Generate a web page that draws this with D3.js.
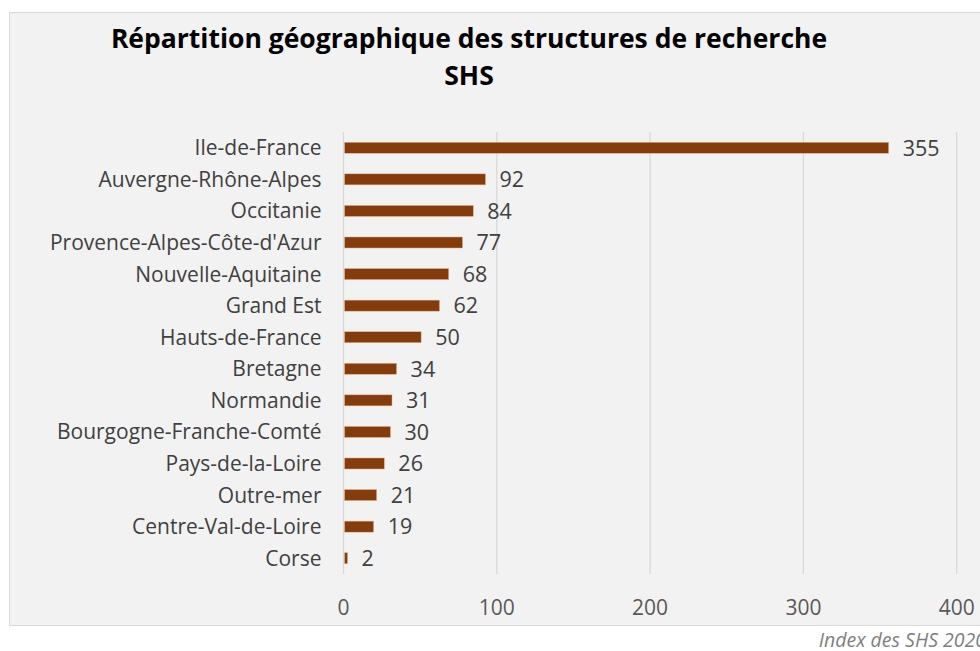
<!DOCTYPE html>
<html>
<head>
<meta charset="utf-8">
<script src="https://cdn.jsdelivr.net/npm/d3@7"></script>
<style>
  body { margin: 0; background: #fff; }
  text { font-family: "Open Sans", sans-serif; }
</style>
</head>
<body>
<div id="chart"></div>
<script>
const regions = ["Ile-de-France", "Auvergne-Rhône-Alpes", "Occitanie", "Provence-Alpes-Côte-d'Azur",
  "Nouvelle-Aquitaine", "Grand Est", "Hauts-de-France", "Bretagne", "Normandie",
  "Bourgogne-Franche-Comté", "Pays-de-la-Loire", "Outre-mer", "Centre-Val-de-Loire", "Corse"];
const counts = [355, 92, 84, 77, 68, 62, 50, 34, 31, 30, 26, 21, 19, 2];
const xTicks = [0, 100, 200, 300, 400];

const W = 980, H = 651;
const plot = { left: 343.5, right: 956.7, top: 132, bottom: 574 };

const svg = d3.select("#chart").append("svg")
  .attr("width", W)
  .attr("height", H);

// chart frame
svg.append("rect")
  .attr("x", 9.5).attr("y", 12.5)
  .attr("width", 990).attr("height", 613)
  .attr("fill", "#f2f2f2")
  .attr("stroke", "#d9d9d9");

const x = d3.scaleLinear().domain([0, 400]).range([plot.left, plot.right]);
const y = d3.scaleBand().domain(regions).range([plot.top, plot.bottom]).paddingInner(0.65).paddingOuter(0.325);

// gridlines
svg.append("g")
  .selectAll("line")
  .data(xTicks)
  .join("line")
  .attr("x1", d => x(d)).attr("x2", d => x(d))
  .attr("y1", plot.top).attr("y2", plot.bottom)
  .attr("stroke", "#d9d9d9")
  .attr("stroke-width", 1.3);

// bars
svg.append("g")
  .selectAll("rect")
  .data(counts)
  .join("rect")
  .attr("x", x(0) + 1)
  .attr("y", (d, i) => y(regions[i]))
  .attr("width", d => x(d) - x(0))
  .attr("height", y.bandwidth())
  .attr("fill", "#843c0c")
  .attr("stroke", "#e8b896")
  .attr("stroke-width", 0.5);

// value labels
svg.append("g")
  .selectAll("text")
  .data(counts)
  .join("text")
  .attr("x", d => x(d) + 15)
  .attr("y", (d, i) => y(regions[i]) + y.bandwidth() / 2)
  .attr("dy", "0.36em")
  .attr("fill", "#404040")
  .attr("font-size", 21.5)
  .text(d => d);

// category labels
svg.append("g")
  .selectAll("text")
  .data(regions)
  .join("text")
  .attr("x", plot.left - 22)
  .attr("y", d => y(d) + y.bandwidth() / 2)
  .attr("dy", "0.36em")
  .attr("text-anchor", "end")
  .attr("fill", "#404040")
  .attr("font-size", 21)
  .text(d => d);

// x axis tick labels
svg.append("g")
  .selectAll("text")
  .data(xTicks)
  .join("text")
  .attr("x", d => x(d))
  .attr("y", 607)
  .attr("dy", "0.36em")
  .attr("text-anchor", "middle")
  .attr("fill", "#595959")
  .attr("font-size", 21)
  .text(d => d);

// title
const title = svg.append("text")
  .attr("text-anchor", "middle")
  .attr("font-weight", "bold")
  .attr("font-size", 26.5)
  .attr("fill", "#000");
title.append("tspan").attr("x", 469).attr("y", 48).text("Répartition géographique des structures de recherche");
title.append("tspan").attr("x", 469).attr("y", 85).text("SHS");

// source
svg.append("text")
  .attr("x", 986)
  .attr("y", 647)
  .attr("text-anchor", "end")
  .attr("font-style", "italic")
  .attr("font-size", 19.5)
  .attr("fill", "#7f7f7f")
  .text("Index des SHS 2020");
</script>
</body>
</html>
